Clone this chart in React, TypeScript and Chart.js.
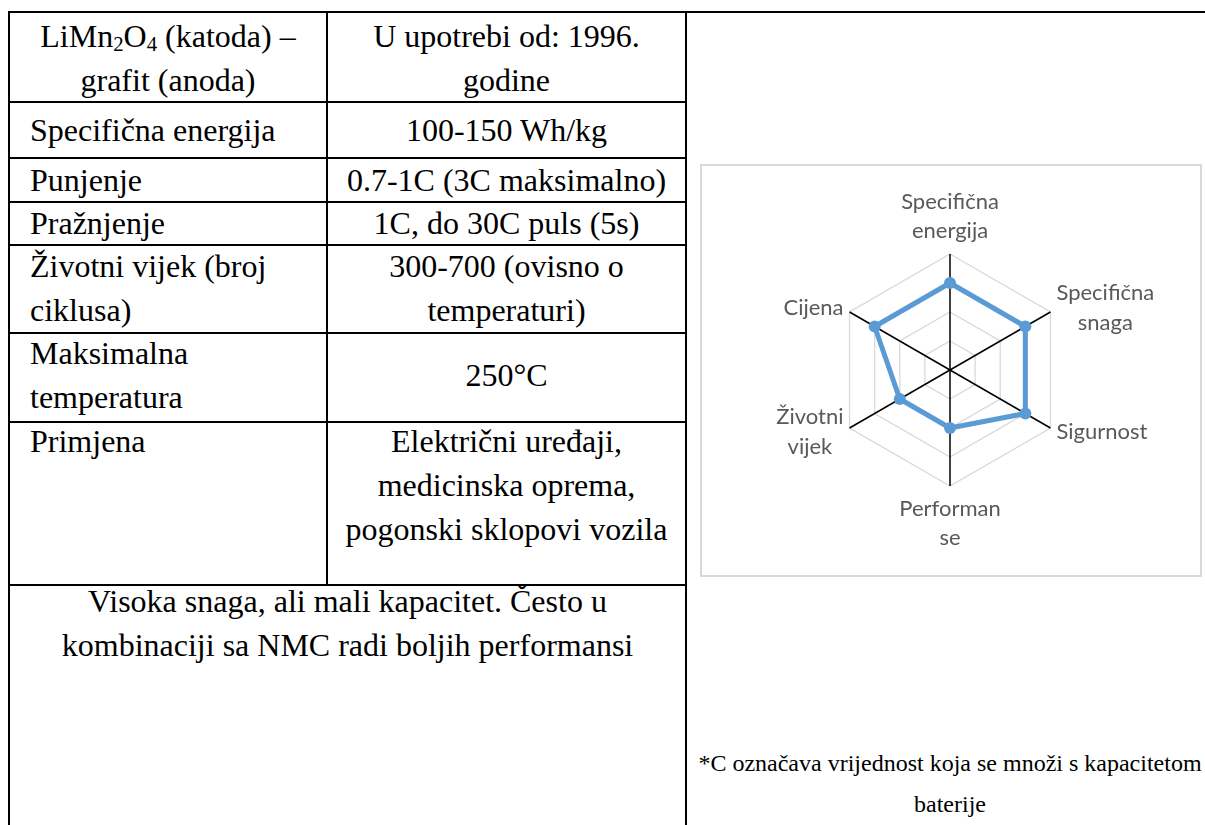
import React, { useEffect, useRef } from "react";
import { Chart, registerables } from "chart.js";

Chart.register(...registerables);

// ---- chart data ----
const categories: (string | string[])[] = [
  ["Specifična", "energija"],
  ["Specifična", "snaga"],
  "Sigurnost",
  ["Performan", "se"],
  ["Životni", "vijek"],
  "Cijena",
];
const ratings = [3, 3, 3, 2, 2, 3];
const scaleMin = 0;
const scaleMax = 4;
const scaleStep = 1;

// ---- table text ----
const headLeft = ["(katoda) –", "grafit (anoda)"];
const headRight = ["U upotrebi od: 1996.", "godine"];
const rowLabels = [
  ["Specifična energija"],
  ["Punjenje"],
  ["Pražnjenje"],
  ["Životni vijek (broj", "ciklusa)"],
  ["Maksimalna", "temperatura"],
  ["Primjena"],
];
const rowValues = [
  ["100-150 Wh/kg"],
  ["0.7-1C (3C maksimalno)"],
  ["1C, do 30C puls (5s)"],
  ["300-700 (ovisno o", "temperaturi)"],
  ["250°C"],
  ["Električni uređaji,", "medicinska oprema,", "pogonski sklopovi vozila"],
];
const summaryLines = [
  "Visoka snaga, ali mali kapacitet. Često u",
  "kombinaciji sa NMC radi boljih performansi",
];
const footnoteLines = [
  "*C označava vrijednost koja se množi s kapacitetom",
  "baterije",
];

// ---- layout (page coordinates) ----
const TABLE_LEFT = 9;
const COL_DIV = 327;
const TABLE_RIGHT = 686;
const TOP_LINE = 12;
const ROW_LINES = [102, 158, 202, 245, 333, 422, 585];
const HEAD_Y = [36, 80];
const ROW_TEXT_Y = [[130], [180], [223], [266, 310], [353, 397], [441, 485, 529]];
const ROW_VALUE_Y = [[130], [180], [223], [266, 310], [375], [441, 485, 529]];
const SUMMARY_Y = [601, 645];
const FOOT_Y = [763, 804];
const LINE_H = 44;
const SERIF =
  "'Liberation Serif', Tinos, 'Times New Roman', Times, 'Nimbus Roman', 'Noto Serif', 'DejaVu Serif', serif";
const FS = 32;

const LABEL_FONT = "22px Lato, 'Open Sans', sans-serif";
const LABEL_LINE = 29.5;
const LABEL_GAP = 6;

const hLine = (y: number, x1: number, x2: number, key: string) => (
  <div key={key} style={{ position: "absolute", left: x1 - 1, top: y - 1, width: x2 - x1 + 2, height: 2, background: "#000" }} />
);
const vLine = (x: number, y1: number, y2: number, key: string) => (
  <div key={key} style={{ position: "absolute", left: x - 1, top: y1 - 1, width: 2, height: y2 - y1 + 1, background: "#000" }} />
);

function TextLine(props: { y: number; x?: number; cx?: number; size?: number; lh?: number; children: React.ReactNode }) {
  const size = props.size ?? FS;
  const lh = props.lh ?? LINE_H;
  const style: React.CSSProperties = {
    position: "absolute",
    top: props.y - lh / 2,
    height: lh,
    lineHeight: lh + "px",
    fontFamily: SERIF,
    fontSize: size,
    color: "#000",
    whiteSpace: "nowrap",
  };
  if (props.cx !== undefined) {
    style.left = props.cx - 400;
    style.width = 800;
    style.textAlign = "center";
  } else {
    style.left = props.x;
  }
  return <div style={style}>{props.children}</div>;
}

// Excel-like point labels: side labels centred vertically near the axis tip,
// multi-line labels centred within their block.
const excelLabels = {
  id: "excelLabels",
  afterDraw(chart: any) {
    const scale = chart.scales.r;
    if (!scale) return;
    const ctx = chart.ctx;
    const labels = chart.data.labels as (string | string[])[];
    const n = labels.length;
    ctx.save();
    ctx.font = LABEL_FONT;
    ctx.fillStyle = "#595959";
    ctx.textBaseline = "middle";
    ctx.textAlign = "center";
    labels.forEach((lab, i) => {
      const lines = Array.isArray(lab) ? lab : [lab];
      const tip = scale.getPointPosition(i, scale.drawingArea);
      const angleDeg = (360 / n) * i;
      const widths = lines.map((l: string) => ctx.measureText(l).width);
      const bw = Math.max(...widths);
      const bh = lines.length * LABEL_LINE;
      let cx = tip.x;
      let top = tip.y - bh / 2;
      if (angleDeg === 0) {
        top = tip.y - LABEL_GAP - 2 - bh;
      } else if (angleDeg === 180) {
        top = tip.y + LABEL_GAP + 2;
      } else {
        const upper = angleDeg < 90 || angleDeg > 270;
        top += upper ? -4 : 4;
        cx = angleDeg < 180 ? tip.x + LABEL_GAP + bw / 2 : tip.x - LABEL_GAP - bw / 2;
      }
      lines.forEach((l: string, k: number) => {
        ctx.fillText(l, cx, top + LABEL_LINE * (k + 0.5));
      });
    });
    ctx.restore();
  },
};

function RadarChart() {
  const ref = useRef<HTMLCanvasElement | null>(null);
  useEffect(() => {
    if (!ref.current) return;
    const chart = new Chart(ref.current, {
      type: "radar",
      data: {
        labels: categories,
        datasets: [
          {
            data: ratings,
            borderColor: "#5B9BD5",
            backgroundColor: "#5B9BD5",
            pointBackgroundColor: "#5B9BD5",
            pointBorderColor: "#5B9BD5",
            borderWidth: 5,
            pointRadius: 6,
            pointBorderWidth: 0,
            fill: false,
            borderJoinStyle: "round",
          },
        ],
      },
      options: {
        responsive: false,
        animation: false,
        layout: { padding: { top: 88, bottom: 89, left: 0, right: 2 } },
        plugins: { legend: { display: false }, tooltip: { enabled: false } },
        scales: {
          r: {
            min: scaleMin,
            max: scaleMax,
            ticks: { display: false, stepSize: scaleStep },
            grid: { color: "#D9D9D9", lineWidth: 1.3 },
            angleLines: { color: "#000000", lineWidth: 1.5 },
            pointLabels: { display: false },
          },
        },
      },
      plugins: [excelLabels],
    });
    return () => chart.destroy();
  }, []);
  return <canvas ref={ref} width={498} height={409} style={{ display: "block", width: 498, height: 409 }} />;
}

export default function App() {
  const lines: React.ReactNode[] = [];
  lines.push(hLine(TOP_LINE, TABLE_LEFT, 1205, "top"));
  ROW_LINES.forEach((y, i) => lines.push(hLine(y, TABLE_LEFT, TABLE_RIGHT, "r" + i)));
  lines.push(vLine(TABLE_LEFT, TOP_LINE, 825, "vl"));
  lines.push(vLine(COL_DIV, TOP_LINE, ROW_LINES[ROW_LINES.length - 1], "vm"));
  lines.push(vLine(TABLE_RIGHT, TOP_LINE, 825, "vr"));

  const c1 = (TABLE_LEFT + COL_DIV) / 2;
  const c2 = (COL_DIV + TABLE_RIGHT) / 2;
  const cAll = (TABLE_LEFT + TABLE_RIGHT) / 2;

  return (
    <div style={{ position: "absolute", left: 0, top: 0, width: 1205, height: 825, overflow: "hidden", background: "#fff" }}>
      {lines}
      <TextLine y={HEAD_Y[0]} cx={c1}>
        LiMn<sub style={{ fontSize: "0.65em", verticalAlign: "-0.2em", lineHeight: 0 }}>2</sub>O
        <sub style={{ fontSize: "0.65em", verticalAlign: "-0.2em", lineHeight: 0 }}>4</sub> {headLeft[0]}
      </TextLine>
      <TextLine y={HEAD_Y[1]} cx={c1}>{headLeft[1]}</TextLine>
      {headRight.map((t, i) => (
        <TextLine key={"hr" + i} y={HEAD_Y[i]} cx={c2}>{t}</TextLine>
      ))}
      {rowLabels.map((ls, r) =>
        ls.map((t, i) => (
          <TextLine key={"rl" + r + "_" + i} y={ROW_TEXT_Y[r][i]} x={30}>{t}</TextLine>
        ))
      )}
      {rowValues.map((ls, r) =>
        ls.map((t, i) => (
          <TextLine key={"rv" + r + "_" + i} y={ROW_VALUE_Y[r][i]} cx={c2}>{t}</TextLine>
        ))
      )}
      {summaryLines.map((t, i) => (
        <TextLine key={"s" + i} y={SUMMARY_Y[i]} cx={cAll}>{t}</TextLine>
      ))}
      {footnoteLines.map((t, i) => (
        <TextLine key={"f" + i} y={FOOT_Y[i]} cx={950} size={24} lh={40}>{t}</TextLine>
      ))}
      <div style={{ position: "absolute", left: 700, top: 164, width: 502, height: 413, boxSizing: "border-box", border: "2px solid #D9D9D9", background: "#fff" }}>
        <RadarChart />
      </div>
    </div>
  );
}
